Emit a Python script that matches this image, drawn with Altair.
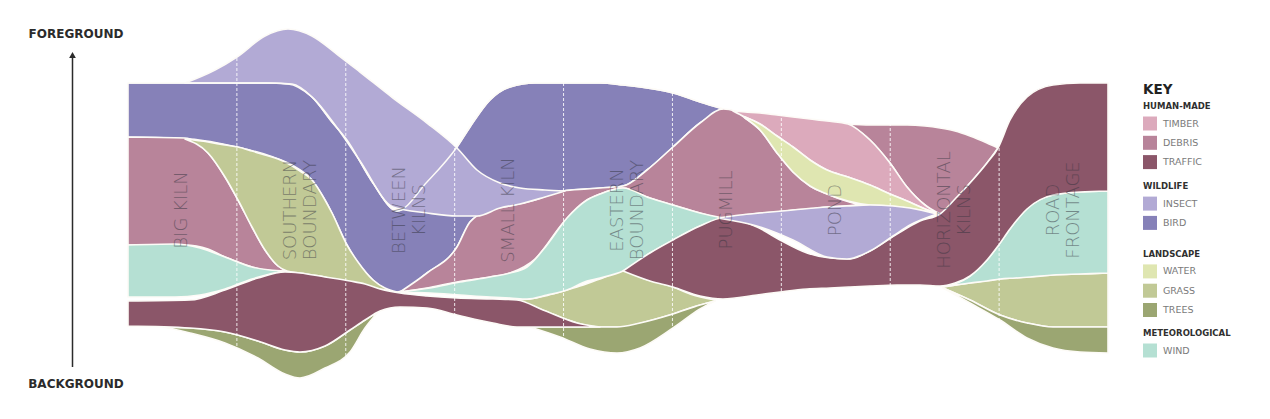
import altair as alt
import pandas as pd

# ---------------- series / colours ----------------
SERIES = ["TIMBER", "DEBRIS", "TRAFFIC", "INSECT", "BIRD", "WATER", "GRASS", "TREES", "WIND"]
COLORS = ["#dcaabc", "#b8849a", "#8b5669", "#b2aad5", "#8681b8", "#dfe6b1", "#c1c996", "#9ba672", "#b5e0d3"]
COLOR = dict(zip(SERIES, COLORS))

GROUPS = [("HUMAN-MADE", ["TIMBER", "DEBRIS", "TRAFFIC"]),
          ("WILDLIFE", ["INSECT", "BIRD"]),
          ("LANDSCAPE", ["WATER", "GRASS", "TREES"]),
          ("METEOROLOGICAL", ["WIND"])]

LOCATIONS = ["BIG KILN", "SOUTHERN\nBOUNDARY", "BETWEEN\nKILNS", "SMALL KILN", "EASTERN\nBOUNDARY",
             "PUGMILL", "POND", "HORIZONTAL\nKILNS", "ROAD\nFRONTAGE"]

# walk position (along route) and depth (foreground = small, background = large)
bird_x = [128, 190, 237, 270, 292, 312, 332, 347, 373, 397, 427, 457, 470, 490, 510, 535, 563, 600, 623, 647, 673, 700, 723]
bird_top = [83, 83, 83, 83, 84, 97, 122, 140, 183, 211, 182, 147, 127, 100, 87, 83, 83, 83, 85, 88, 93, 102, 109]
bird_bot = [137, 139, 147, 156, 165, 180, 213, 245, 280, 292, 273, 247, 222, 210, 206, 200, 191, 188, 186, 170, 147, 123, 109]

insect1_x = [185, 215, 237, 265, 288, 312, 338, 360, 393, 427, 457, 477, 500, 520, 545, 565]
insect1_top = [83, 70, 57, 36, 29, 36, 55, 72, 98, 123, 148, 170, 183, 188, 190, 191]
insect1_bot = [83, 83, 83, 83, 84, 97, 129, 161, 207, 213, 216, 216, 208, 204, 197, 191]

insect2_x = [718, 740, 760, 793, 827, 847, 870, 893, 910, 937]
insect2_top = [218, 215, 213, 210, 207, 206, 205, 206, 208, 214]
insect2_bot = [218, 222, 227, 240, 257, 259, 251, 236, 225, 214]

debris1_x = [128, 185, 208, 225, 238, 252, 265, 278, 287]
debris1_top = [137, 138, 153, 177, 200, 227, 250, 266, 271]
debris1_bot = [245, 245, 249, 257, 262, 267, 270, 271, 271]

debris2_x = [400, 427, 457, 470, 490, 510, 535, 563, 587, 600, 623, 647, 673, 700, 723, 735, 745, 760, 777, 793, 810, 827, 843, 860]
debris2_top = [292, 273, 247, 222, 210, 206, 200, 191, 189, 188, 186, 170, 147, 123, 109, 111, 118, 130, 153, 172, 186, 194, 200, 205]
debris2_bot = [292, 288, 282, 280, 277, 273, 259, 223, 200, 194, 188, 197, 205, 213, 218, 217, 215, 213, 212, 210, 209, 207, 206, 205]

debris3_x = [848, 870, 890, 907, 925, 940, 955, 970, 987, 998]
debris3_top = [124, 125, 125, 125, 126, 128, 131, 136, 143, 148]
debris3_bot = [124, 140, 163, 187, 205, 214, 200, 183, 163, 148]

timber_x = [733, 745, 760, 777, 793, 810, 827, 848, 870, 890, 907, 925, 940]
timber_top = [111, 112, 113, 115, 117, 119, 121, 124, 140, 163, 187, 205, 214]
timber_bot = [111, 117, 124, 136, 147, 160, 170, 177, 185, 194, 201, 209, 214]

water_x = [745, 760, 777, 793, 810, 827, 848, 870, 890, 907, 925, 940]
water_top = [117, 124, 136, 147, 160, 170, 177, 185, 194, 201, 209, 214]
water_bot = [118, 130, 153, 172, 186, 194, 201, 205, 206, 208, 211, 214]

wind1_x = [128, 175, 200, 225, 252, 270, 285]
wind1_top = [245, 244, 248, 257, 267, 270, 271]
wind1_bot = [297, 297, 295, 289, 279, 274, 271]

wind2_x = [400, 430, 460, 490, 510, 527, 547, 567, 587, 600, 623, 650, 673, 700, 723]
wind2_top = [292, 288, 282, 277, 273, 267, 245, 218, 200, 194, 188, 198, 205, 213, 218]
wind2_bot = [292, 293, 295, 297, 298, 299, 295, 290, 281, 278, 271, 253, 240, 226, 218]

wind3_x = [943, 970, 987, 1000, 1015, 1030, 1053, 1080, 1108]
wind3_top = [287, 276, 260, 243, 222, 206, 195, 192, 191]
wind3_bot = [287, 283, 281, 279, 278, 277, 275, 274, 273]

grass1_x = [185, 208, 225, 238, 252, 265, 278, 287, 300, 312, 325, 332, 347, 358, 373, 385, 397]
grass1_top = [139, 142, 145, 147, 151, 155, 159, 163, 171, 180, 200, 213, 245, 262, 280, 288, 292]
grass1_bot = [139, 153, 177, 200, 227, 250, 266, 271, 273, 275, 277, 279, 282, 284, 288, 290, 292]

grass2_x = [515, 530, 545, 560, 577, 600, 623, 645, 673, 690, 715]
grass2_top = [300, 299, 296, 292, 287, 279, 271, 279, 287, 294, 300]
grass2_bot = [300, 305, 311, 317, 323, 327, 327, 322, 314, 308, 301]

grass3_x = [943, 970, 1000, 1027, 1053, 1080, 1108]
grass3_top = [287, 283, 279, 277, 275, 274, 273]
grass3_bot = [288, 300, 315, 323, 327, 327, 327]

trees1_x = [163, 190, 225, 258, 285, 300, 325, 350, 365, 378]
trees1_top = [327, 328, 332, 341, 350, 352, 346, 330, 320, 312]
trees1_bot = [327, 333, 343, 358, 374, 378, 368, 352, 328, 312]

trees2_x = [530, 560, 590, 617, 640, 673, 700, 715]
trees2_top = [327, 327, 327, 327, 323, 314, 305, 301]
trees2_bot = [327, 337, 349, 353, 348, 328, 309, 301]

trees3_x = [943, 970, 1000, 1027, 1053, 1080, 1108]
trees3_top = [288, 300, 315, 323, 327, 327, 327]
trees3_bot = [288, 303, 320, 338, 348, 352, 353]

traffic1_x = [128, 190, 225, 258, 285, 300, 325, 350, 365, 380, 400, 427, 457, 493, 517, 543, 577, 600]
traffic1_top = [301, 300, 290, 278, 272, 273, 277, 281, 284, 289, 293, 296, 298, 299, 300, 310, 323, 327]
traffic1_bot = [326, 328, 332, 341, 350, 352, 346, 330, 320, 311, 307, 308, 315, 323, 327, 327, 327, 327]

traffic2_x = [623, 650, 673, 700, 723, 757, 780, 807, 830, 850, 870, 897, 920, 940, 955, 970, 987, 998, 1010, 1027, 1053, 1080, 1108]
traffic2_top = [271, 253, 240, 226, 218, 227, 240, 253, 258, 259, 251, 234, 221, 214, 199, 183, 163, 148, 120, 97, 85, 83, 83]
traffic2_bot = [271, 281, 287, 296, 299, 295, 292, 289, 288, 287, 286, 285, 285, 286, 283, 276, 260, 246, 229, 209, 195, 192, 191]

# drawing order (first = underneath)
BANDS = [
    ("BIRD", bird_x, bird_top, bird_bot),
    ("DEBRIS", debris1_x, debris1_top, debris1_bot),
    ("DEBRIS", debris2_x, debris2_top, debris2_bot),
    ("DEBRIS", debris3_x, debris3_top, debris3_bot),
    ("GRASS", grass1_x, grass1_top, grass1_bot),
    ("GRASS", grass2_x, grass2_top, grass2_bot),
    ("GRASS", grass3_x, grass3_top, grass3_bot),
    ("TREES", trees1_x, trees1_top, trees1_bot),
    ("TREES", trees2_x, trees2_top, trees2_bot),
    ("TREES", trees3_x, trees3_top, trees3_bot),
    ("WIND", wind1_x, wind1_top, wind1_bot),
    ("WIND", wind2_x, wind2_top, wind2_bot),
    ("WIND", wind3_x, wind3_top, wind3_bot),
    ("TRAFFIC", traffic1_x, traffic1_top, traffic1_bot),
    ("TRAFFIC", traffic2_x, traffic2_top, traffic2_bot),
    ("TIMBER", timber_x, timber_top, timber_bot),
    ("WATER", water_x, water_top, water_bot),
    ("INSECT", insect1_x, insect1_top, insect1_bot),
    ("INSECT", insect2_x, insect2_top, insect2_bot),
]

X0, X1 = 128, 1108
Y0, Y1 = 28, 380
W, H = X1 - X0, Y1 - Y0
xs = alt.Scale(domain=[X0, X1])
ys = alt.Scale(domain=[Y0, Y1], reverse=True)
FONT = "DejaVu Sans"
EDGE = "#fdfbf7"

layers = []
for name, bx, bt, bb in BANDS:
    df = pd.DataFrame({"x": bx, "top": bt, "bottom": bb})
    layers.append(
        alt.Chart(df).mark_area(interpolate="monotone", stroke=EDGE, strokeWidth=1.6,
                                strokeJoin="round", color=COLOR[name])
        .encode(x=alt.X("x:Q", scale=xs, axis=None),
                y=alt.Y("top:Q", scale=ys, axis=None),
                y2="bottom:Q")
    )

# the bird's upper edge stays visible where it passes beneath the insect band
layers.append(
    alt.Chart(pd.DataFrame({"x": bird_x, "top": bird_top}))
    .mark_line(interpolate="monotone", color=EDGE, strokeWidth=1.4)
    .encode(x=alt.X("x:Q", scale=xs, axis=None), y=alt.Y("top:Q", scale=ys, axis=None))
)

# dashed separators between locations
ncol = len(LOCATIONS)
sep = pd.DataFrame({"bx": [X0 + i * W / ncol for i in range(1, ncol)]})
layers.append(
    alt.Chart(sep).mark_rule(color="white", strokeDash=[3, 2], strokeWidth=1, opacity=0.85)
    .encode(x=alt.X("bx:Q", scale=xs, axis=None), y=alt.value(0), y2=alt.value(H))
)

# location labels
lab = pd.DataFrame({"name": LOCATIONS,
                    "xc": [X0 + (i + 0.5) * W / ncol for i in range(ncol)],
                    "yc": [210] * ncol})
layers.append(
    alt.Chart(lab).mark_text(angle=270, font=FONT, fontSize=18, fontWeight=200, lineBreak="\n",
                             lineHeight=20, color="#34343f", opacity=0.5,
                             align="center", baseline="middle")
    .encode(x=alt.X("xc:Q", scale=xs, axis=None), y=alt.Y("yc:Q", scale=ys, axis=None), text="name:N")
)

# foreground / background axis
axis_df = pd.DataFrame({"t": ["FOREGROUND", "BACKGROUND"], "py": [33.5 - Y0, 383.5 - Y0]})
layers.append(
    alt.Chart(axis_df).mark_text(font=FONT, fontSize=12, fontWeight="bold", color="#2b2b2b",
                                 align="center", baseline="middle")
    .encode(text="t:N", x=alt.value(76 - X0), y=alt.Y("py:Q", scale=None))
)
layers.append(
    alt.Chart(pd.DataFrame({"a": [0]})).mark_rule(color="#2b2b2b", strokeWidth=1.5)
    .encode(x=alt.value(72.5 - X0), y=alt.value(58 - Y0), y2=alt.value(367 - Y0))
)
layers.append(
    alt.Chart(pd.DataFrame({"a": [0]})).mark_point(shape="triangle-up", filled=True, size=45,
                                                   color="#2b2b2b", opacity=1)
    .encode(x=alt.value(72.5 - X0), y=alt.value(55 - Y0))
)

# key
rows = []
yy = 106 - Y0
gaps = [0, 24, 31, 23]
for gi, (g, members) in enumerate(GROUPS):
    yy += gaps[gi]
    rows.append({"label": g, "kind": "header", "py": yy, "color": "#000"})
    yy += 17.5
    for k, it in enumerate(members):
        if k:
            yy += 19.3
        rows.append({"label": it, "kind": "item", "py": yy, "color": COLOR[it]})
key = pd.DataFrame(rows)
heads = key[key.kind == "header"]
items = key[key.kind == "item"]

layers.append(
    alt.Chart(pd.DataFrame({"t": ["KEY"]})).mark_text(font=FONT, fontSize=13.5, fontWeight="bold",
                                                      color="#222", align="left", baseline="middle")
    .encode(text="t:N", x=alt.value(1143 - X0), y=alt.value(90 - Y0))
)
layers.append(
    alt.Chart(heads).mark_text(font=FONT, fontSize=8.5, fontWeight="bold", color="#2f2f2f",
                               align="left", baseline="middle")
    .encode(text="label:N", x=alt.value(1143 - X0), y=alt.Y("py:Q", scale=None))
)
layers.append(
    alt.Chart(items).mark_square(size=196, opacity=1, filled=True)
    .encode(x=alt.value(1150 - X0), y=alt.Y("py:Q", scale=None), color=alt.Color("color:N", scale=None))
)
layers.append(
    alt.Chart(items).mark_text(font=FONT, fontSize=9.5, color="#7a7a7a", align="left", baseline="middle")
    .encode(text="label:N", x=alt.value(1163 - X0), y=alt.Y("py:Q", scale=None))
)

chart = (
    alt.layer(*layers)
    .properties(width=W, height=H, autosize="none", background="white",
                padding={"left": 120, "top": 20, "right": 146, "bottom": 27})
    .configure_view(strokeWidth=0, stroke=None)
)

chart.save("out.html", embed_options={"renderer": "svg", "actions": False})
